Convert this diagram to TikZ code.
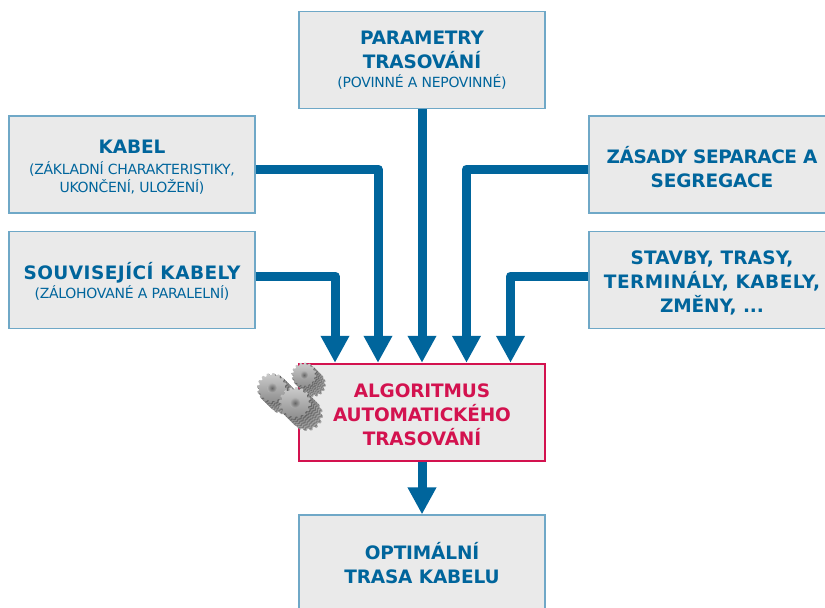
\documentclass[tikz,border=0pt]{standalone}
\usepackage{fontspec}
\setmainfont{DejaVu Sans}
\usetikzlibrary{arrows.meta}
\definecolor{flowblue}{HTML}{00659C}
\definecolor{boxline}{HTML}{6FA8C7}
\definecolor{boxfill}{HTML}{EAEAEA}
\definecolor{algored}{HTML}{D3124F}
\newcommand{\tlx}[3]{{\fontsize{18.5}{24}\selectfont\bfseries\addfontfeature{LetterSpace=#1}\rule[-6pt]{0pt}{\dimexpr24pt+#2\relax}#3}}
\newcommand{\tl}[2][0pt]{\tlx{-0.8}{#1}{#2}}
\newcommand{\sm}[2][18pt]{{\fontsize{14}{18}\selectfont\addfontfeature{LetterSpace=-2}\rule[-5pt]{0pt}{#1}#2}}
\newcommand{\gearface}[1]{plot[domain=0:360,samples=193] (\x:{#1*(0.93+0.07*sign(sin(16*\x)))}) -- cycle}
\newcommand{\gear}[3]{%
  \begin{scope}[shift={(#1,#2)}]
    \foreach \d in {12,11,...,1}{
      \pgfmathsetmacro{\shade}{int(46-1*\d+16*mod(\d,2))}
      \fill[black!\shade!white,shift={(\d*#3/16,\d*#3/16)}] \gearface{#3};
    }
    \shade[top color=black!20,bottom color=black!45] \gearface{#3};
    \shade[inner color=black!60,outer color=black!30] (0,0) circle ({0.34*#3});
  \end{scope}}
\begin{document}
\begin{tikzpicture}[x=1pt,y=-1pt,
  every node/.append style={execute at begin node={\baselineskip=0pt\lineskip=0pt}},
  infobox/.style={draw=boxline,fill=boxfill,line width=1.2pt,minimum width=246pt,minimum height=97pt,inner sep=0pt,align=center,text=flowblue},
  algobox/.style={draw=algored,fill=boxfill,line width=2.4pt,minimum width=246pt,minimum height=97pt,inner sep=0pt,align=center,text=algored},
  flow/.style={draw=flowblue,line width=9pt,line join=round,-{Triangle[width=27pt,length=27pt]}},
]
\useasboundingbox (0,0) rectangle (825,608);
\fill[white] (0,0) rectangle (825,608);
\node[infobox] (par) at (422,60) {\tl[-2pt]{PARAMETRY}\\\tl{TRASOVÁNÍ}\\\sm{(POVINNÉ A NEPOVINNÉ)}};
\node[infobox] (kab) at (132,164.5) {\tl[4pt]{KABEL}\\\sm[20pt]{(ZÁKLADNÍ CHARAKTERISTIKY,}\\\sm{UKONČENÍ, ULOŽENÍ)}};
\node[infobox] (sou) at (132,280) {\tlx{2.5}{4pt}{SOUVISEJÍCÍ KABELY}\\\sm{(ZÁLOHOVANÉ A PARALELNÍ)}};
\node[infobox] (zas) at (712,164.5) {\tlx{-2.4}{10pt}{ZÁSADY SEPARACE A}\\\tl{SEGREGACE}};
\node[infobox] (sta) at (712,280) {\tlx{1}{5.5pt}{STAVBY, TRASY,}\\\tlx{2.4}{0pt}{TERMINÁLY, KABELY,}\\\tl{ZMĚNY, ...}};
\node[algobox] (alg) at (422,412.5) {\tl[6pt]{ALGORITMUS}\\\tl{AUTOMATICKÉHO}\\\tl{TRASOVÁNÍ}};
\node[infobox,minimum height=100pt] (opt) at (422,565) {\tl[1.5pt]{OPTIMÁLNÍ}\\\tl{TRASA KABELU}};
\draw[flow] (par.south) -- (alg.north);
\draw[flow] ([yshift=-4.5pt]kab.east) -| ([xshift=-44pt]alg.north);
\draw[flow] ([yshift=4pt]sou.east) -| ([xshift=-87pt]alg.north);
\draw[flow] ([yshift=-4.5pt]zas.west) -| ([xshift=44.5pt]alg.north);
\draw[flow] ([yshift=4pt]sta.west) -| ([xshift=88.5pt]alg.north);
\draw[flow] (alg.south) -- (opt.north);
\gear{272}{388}{15}
\gear{304}{375}{12.5}
\gear{295}{403}{16}
\end{tikzpicture}
\end{document}
